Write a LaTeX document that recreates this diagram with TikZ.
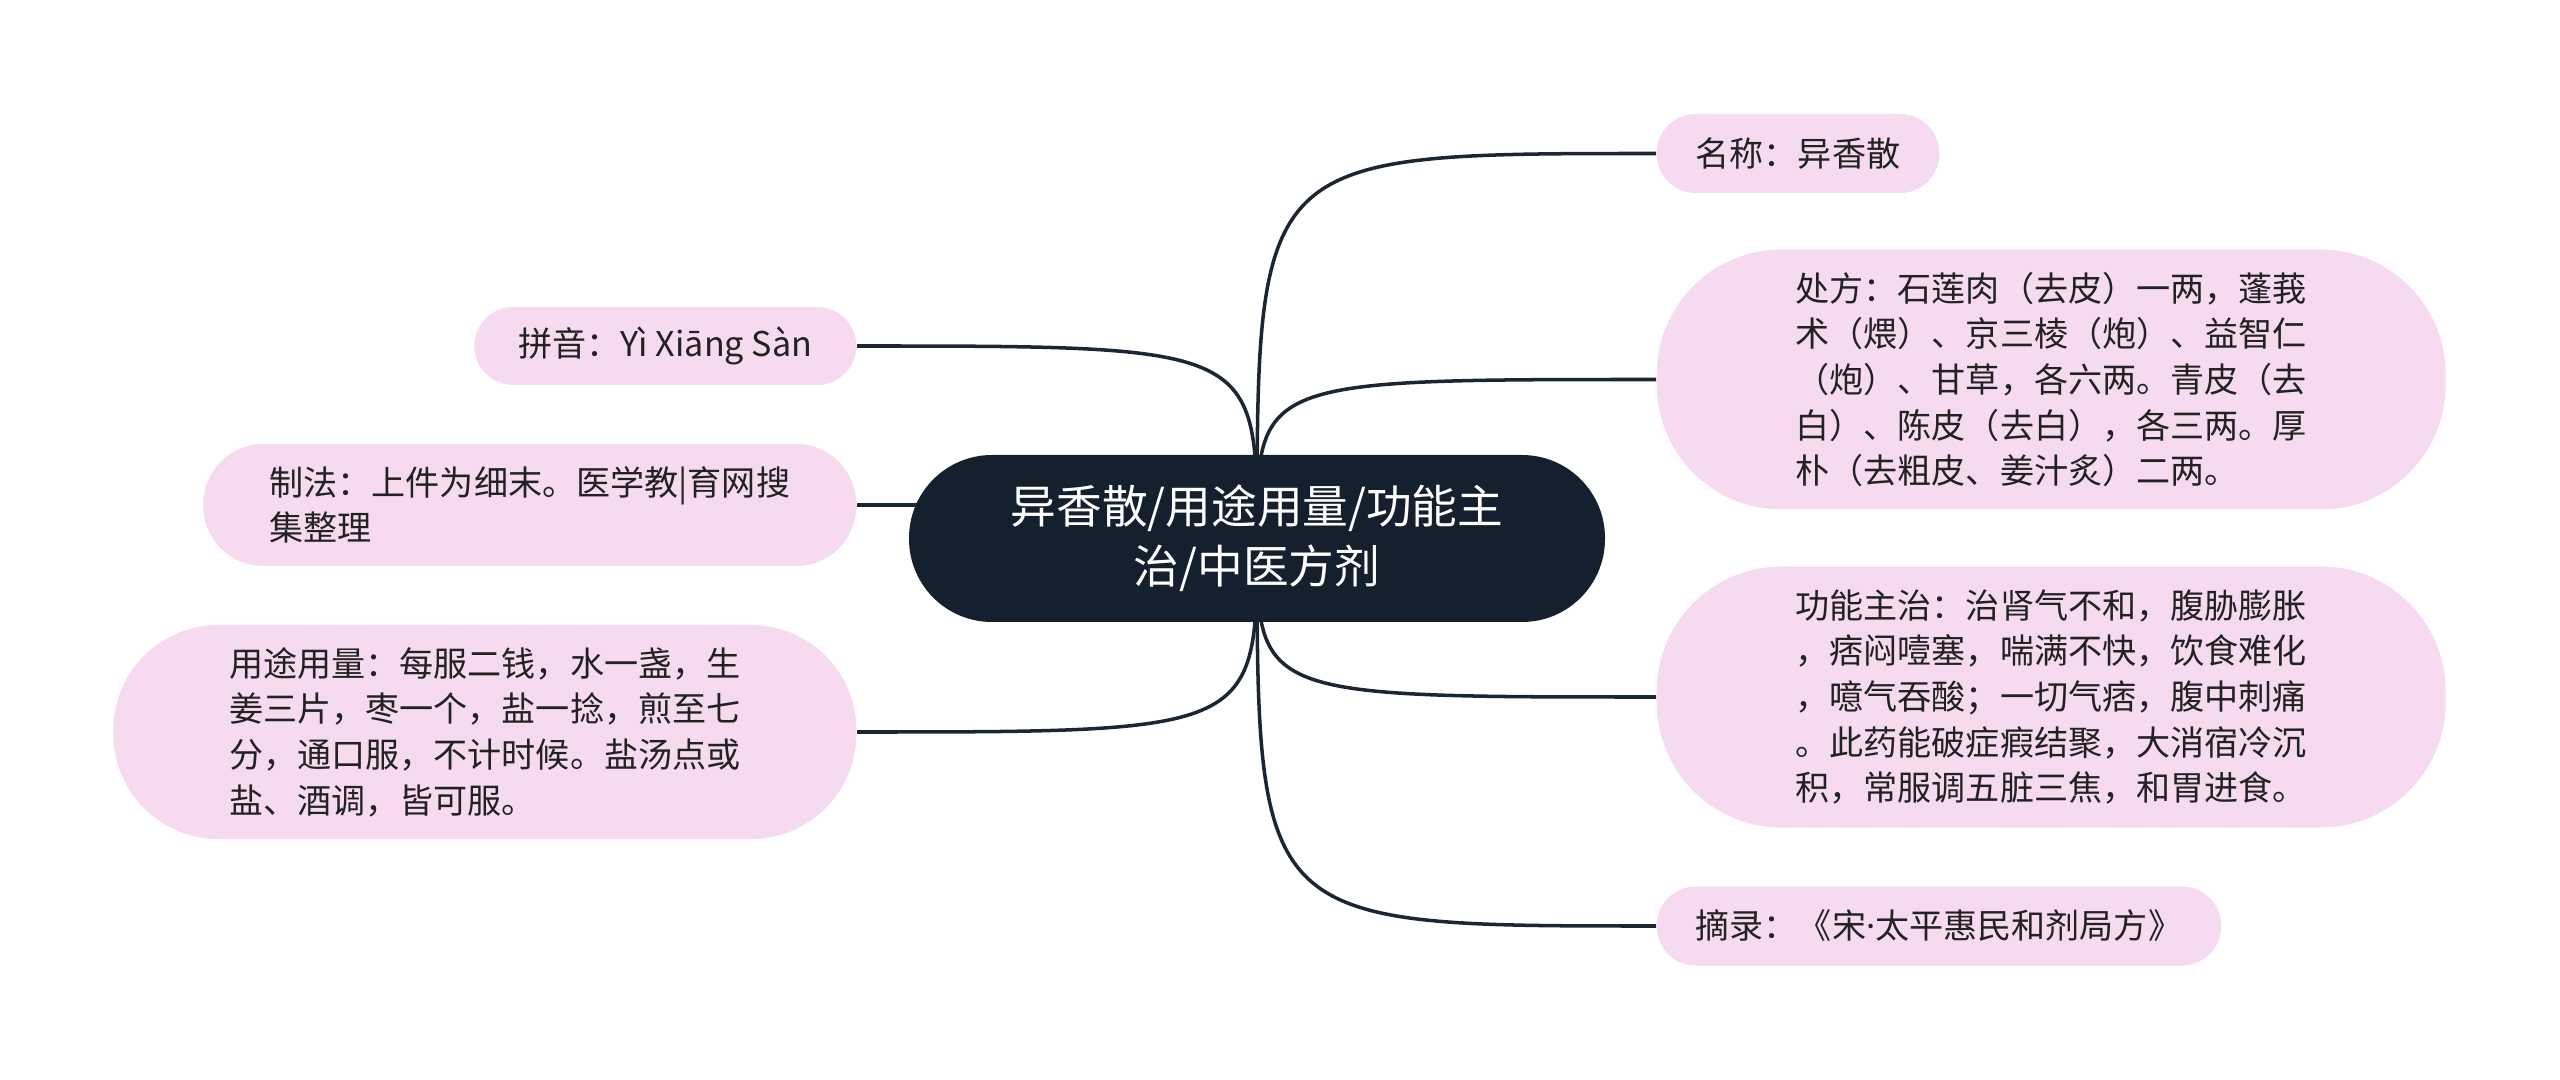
\documentclass[tikz,border=0pt]{standalone}
\usepackage{fontspec}
\newfontfamily\cjk{Noto Sans CJK SC}
\newfontfamily\latinf{Noto Sans}
\usetikzlibrary{backgrounds}
\definecolor{rootblue}{HTML}{15202E}
\definecolor{leafpink}{HTML}{F5DAF0}
\definecolor{linedark}{HTML}{1C2633}
\definecolor{textdark}{HTML}{222222}

\begin{document}
\begin{tikzpicture}[
  root/.style={fill=rootblue, text=white, rounded corners=0.83cm, minimum width=6.96cm, minimum height=1.67cm, align=center, font=\cjk\fontsize{13pt}{17pt}\selectfont},
  leaf/.style={fill=leafpink, text=textdark, align=left, inner xsep=0.39cm, font=\cjk\fontsize{9.7pt}{13pt}\selectfont},
  link/.style={linedark, line width=1pt}
]
\useasboundingbox (0,0) rectangle (25.6,10.79);
\node[root] (main) at (12.57,5.405) {异香散/用途用量/功能主\\治/中医方剂};
\node[leaf, anchor=west, minimum width=2.82cm, minimum height=0.79cm, rounded corners=0.39cm] (name) at (16.56,9.255) {名称：异香散};
\node[leaf, anchor=west, minimum width=7.89cm, minimum height=2.6cm, rounded corners=1.25cm] (recipe) at (16.56,6.995) {处方：石莲肉（去皮）一两，蓬莪\\术（煨）、京三棱（炮）、益智仁\\（炮）、甘草，各六两。青皮（去\\白）、陈皮（去白），各三两。厚\\朴（去粗皮、姜汁炙）二两。};
\node[leaf, anchor=west, minimum width=7.89cm, minimum height=2.61cm, rounded corners=1.25cm] (effect) at (16.56,3.82) {功能主治：治肾气不和，腹胁膨胀\\，痞闷噎塞，喘满不快，饮食难化\\，噫气吞酸；一切气痞，腹中刺痛\\。此药能破症瘕结聚，大消宿冷沉\\积，常服调五脏三焦，和胃进食。};
\node[leaf, anchor=west, minimum width=5.62cm, minimum height=0.79cm, rounded corners=0.39cm] (source) at (16.56,1.53) {摘录：《宋{\latinf ·}太平惠民和剂局方》};
\node[leaf, anchor=east, minimum width=3.82cm, minimum height=0.78cm, rounded corners=0.39cm] (pinyin) at (8.57,7.33) {拼音：Yì Xiāng Sàn};
\node[leaf, anchor=east, minimum width=6.53cm, minimum height=1.22cm, rounded corners=0.6cm] (method) at (8.57,5.74) {制法：上件为细末。医学教|育网搜\\集整理};
\node[leaf, anchor=east, minimum width=7.43cm, minimum height=2.14cm, rounded corners=1.05cm] (usage) at (8.57,3.47) {用途用量：每服二钱，水一盏，生\\姜三片，枣一个，盐一捻，煎至七\\分，通口服，不计时候。盐汤点或\\盐、酒调，皆可服。};
\begin{scope}[on background layer]
\foreach \n in {name,recipe,effect,source}
  \draw[link] (main.center) .. controls (main.center |- \n.west) .. (\n.west);
\foreach \n in {pinyin,method,usage}
  \draw[link] (main.center) .. controls (main.center |- \n.east) .. (\n.east);
\end{scope}
\end{tikzpicture}
\end{document}
